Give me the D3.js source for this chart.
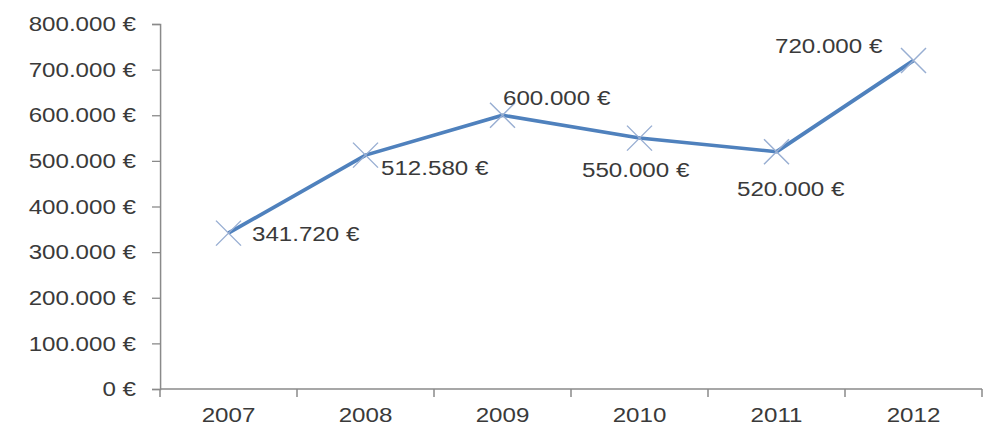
<!DOCTYPE html>
<html lang="de">
<head>
<meta charset="UTF-8">
<title>Umsatz 2007-2012</title>
<script src="https://d3js.org/d3.v7.min.js"></script>
<style>
  html, body { margin: 0; padding: 0; background: #fff; }
  text { font-family: "Liberation Sans", Arial, sans-serif; fill: #3a3a3a; }
</style>
</head>
<body>
<div id="chart"></div>
<script>
// data
var years = ["2007", "2008", "2009", "2010", "2011", "2012"];
var values = [341720, 512580, 600000, 550000, 520000, 720000];
var yTicks = [0, 100000, 200000, 300000, 400000, 500000, 600000, 700000, 800000];

// label offsets from each point, in screen pixels
var labelDx = [23.5, 15.5, 0.5, -57.5, -39.5, -138.5];
var labelDy = [1, 13, -18, 32, 37, -15];

var W = 988, H = 427;
var sx = 1.15; // the reference text is drawn wider than normal
var px = function(v) { return v / sx; };

var svg = d3.select("#chart").append("svg")
    .attr("width", W)
    .attr("height", H)
    .attr("viewBox", "0 0 " + (W / sx) + " " + H)
    .attr("preserveAspectRatio", "none");

var plotL = px(160), plotR = px(982), plotT = 24, plotB = 389;

var x = d3.scaleBand().domain(years).range([plotL, plotR]);
var y = d3.scaleLinear().domain([0, 800000]).range([plotB, plotT]);

// euro format with dot as thousands separator
var fmt = function(v) {
  return d3.format(",")(v).replace(/,/g, ".") + " €";
};

var axisColor = "#8a8a8a";

// y axis
var yAxis = svg.append("g")
    .attr("transform", "translate(" + plotL + ",0)")
    .call(d3.axisLeft(y).tickValues(yTicks).tickSize(px(8)).tickPadding(px(16)).tickFormat(fmt));
yAxis.select(".domain").attr("stroke", axisColor).attr("stroke-width", 1.3);
yAxis.selectAll(".tick line").attr("stroke", axisColor).attr("stroke-width", 1.3);
yAxis.selectAll("text").attr("font-size", 21).attr("fill", "#3a3a3a")
    .style("font-family", "'Liberation Sans', Arial, sans-serif");

// x axis, ticks on category boundaries
var xAxis = svg.append("g")
    .attr("transform", "translate(0," + plotB + ")");
xAxis.append("line")
    .attr("x1", plotL).attr("x2", plotR)
    .attr("stroke", axisColor).attr("stroke-width", 1.3);
var bounds = years.map(function(d) { return x(d); }).concat([x(years[years.length - 1]) + x.bandwidth()]);
xAxis.selectAll("line.tk")
  .data(bounds)
  .join("line")
    .attr("class", "tk")
    .attr("x1", function(d) { return d; })
    .attr("x2", function(d) { return d; })
    .attr("y1", 0).attr("y2", 8)
    .attr("stroke", axisColor).attr("stroke-width", 1.3);
xAxis.selectAll("text")
  .data(years)
  .join("text")
    .attr("x", function(d) { return x(d) + x.bandwidth() / 2; })
    .attr("y", 26)
    .attr("dy", "0.35em")
    .attr("text-anchor", "middle")
    .attr("font-size", 21)
    .text(function(d) { return d; });

var cx = function(i) { return x(years[i]) + x.bandwidth() / 2; };

// line
var line = d3.line()
    .x(function(d, i) { return cx(i); })
    .y(function(d) { return y(d); });

svg.append("path")
    .datum(values)
    .attr("fill", "none")
    .attr("stroke", "#4f81bd")
    .attr("stroke-width", 3.6)
    .attr("stroke-linejoin", "round")
    .attr("d", line);

// x markers
var mh = 12.5;
svg.append("g").selectAll("path")
  .data(values)
  .join("path")
    .attr("fill", "none")
    .attr("stroke", "#98aed2")
    .attr("stroke-width", 1.2)
    .attr("d", function(d, i) {
      var a = cx(i), b = y(d), w = px(mh);
      return "M" + (a - w) + "," + (b - mh) + "L" + (a + w) + "," + (b + mh) +
             "M" + (a - w) + "," + (b + mh) + "L" + (a + w) + "," + (b - mh);
    });

// data labels
svg.append("g").selectAll("text")
  .data(values)
  .join("text")
    .attr("x", function(d, i) { return cx(i) + px(labelDx[i]); })
    .attr("y", function(d, i) { return y(d) + labelDy[i]; })
    .attr("dy", "0.35em")
    .attr("font-size", 21)
    .text(function(d) { return fmt(d); });
</script>
</body>
</html>
